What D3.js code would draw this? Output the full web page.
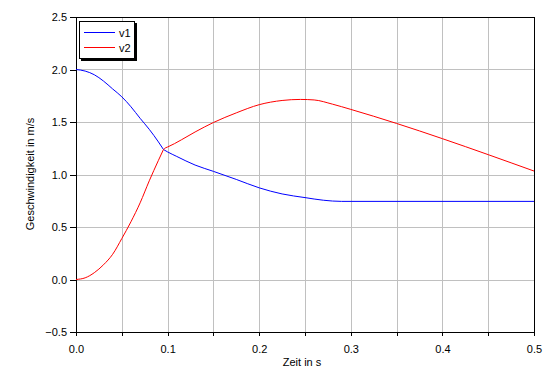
<!DOCTYPE html>
<html>
<head>
<meta charset="utf-8">
<script src="https://cdn.jsdelivr.net/npm/d3@7"></script>
<style>
  body { margin: 0; background: #fff; }
  text { font-family: "Liberation Sans", Arial, sans-serif; font-size: 11px; fill: #000; }
</style>
</head>
<body>
<div id="chart"></div>
<script>
// data
var timeV1 = [0, 0.01, 0.02, 0.03, 0.04, 0.05, 0.06, 0.07, 0.08, 0.09, 0.0955, 0.1, 0.11, 0.13, 0.15, 0.175, 0.2, 0.225, 0.25, 0.27, 0.29, 0.5];
var valV1  = [2.0, 1.985, 1.95, 1.89, 1.815, 1.74, 1.645, 1.535, 1.43, 1.31, 1.238, 1.215, 1.172, 1.09, 1.03, 0.953, 0.873, 0.815, 0.78, 0.755, 0.744, 0.744];

var timeV2 = [0, 0.01, 0.02, 0.03, 0.04, 0.05, 0.06, 0.07, 0.08, 0.09, 0.0955, 0.098, 0.1, 0.115, 0.13, 0.15, 0.175, 0.2, 0.225, 0.245, 0.26, 0.28, 0.3, 0.5];
var valV2  = [0, 0.016, 0.065, 0.14, 0.24, 0.39, 0.55, 0.73, 0.94, 1.135, 1.238, 1.255, 1.262, 1.33, 1.405, 1.495, 1.587, 1.665, 1.705, 1.715, 1.71, 1.67, 1.62, 1.033];

// time where both curves meet (kink in both)
var kinkTime = 0.0955;

var xTicks = [0, 0.1, 0.2, 0.3, 0.4, 0.5];
var xGrid = [0.05, 0.1, 0.15, 0.2, 0.25, 0.3, 0.35, 0.4, 0.45];
var yTicks = [-0.5, 0, 0.5, 1.0, 1.5, 2.0, 2.5];

var series = [
  {name: "v1", color: "#0000ff", t: timeV1, v: valV1},
  {name: "v2", color: "#ff0000", t: timeV2, v: valV2}
];

var W = 559, H = 381;
var margin = {left: 76, top: 17, right: 25, bottom: 49};

var svg = d3.select("#chart").append("svg")
    .attr("width", W).attr("height", H);

var x = d3.scaleLinear().domain([0, 0.5]).range([margin.left, W - margin.right]);
var y = d3.scaleLinear().domain([-0.5, 2.5]).range([H - margin.bottom, margin.top]);

var g = svg.append("g").attr("shape-rendering", "crispEdges");

// grid
g.selectAll(".vgrid").data(xGrid).enter().append("line")
    .attr("x1", d => Math.round(x(d)) + 0.5).attr("x2", d => Math.round(x(d)) + 0.5)
    .attr("y1", y(2.5)).attr("y2", y(-0.5))
    .attr("stroke", "#c0c0c0");
g.selectAll(".hgrid").data(yTicks.slice(1, -1)).enter().append("line")
    .attr("x1", x(0)).attr("x2", x(0.5))
    .attr("y1", d => Math.round(y(d)) + 0.5).attr("y2", d => Math.round(y(d)) + 0.5)
    .attr("stroke", "#c0c0c0");

// axes
var xAxis = d3.axisBottom(x).tickValues(d3.range(0, 0.501, 0.05))
    .tickSize(4).tickSizeOuter(0)
    .tickFormat(d => (Math.abs(d * 10 - Math.round(d * 10)) < 1e-6) ? d3.format(".1f")(d) : "");
var xg = svg.append("g")
    .attr("transform", "translate(0," + Math.round(y(-0.5)) + ")")
    .call(xAxis);
xg.selectAll("text").attr("dy", "1.25em");

var yAxis = d3.axisLeft(y).tickValues(yTicks).tickSize(6).tickSizeOuter(0)
    .tickFormat(d3.format(".1f"));
var yg = svg.append("g")
    .attr("transform", "translate(" + Math.round(x(0)) + ",0)")
    .call(yAxis);
yg.selectAll("text").attr("x", -9);

svg.selectAll(".domain, .tick line").attr("stroke", "#000").attr("shape-rendering", "crispEdges");
svg.selectAll(".tick text").style("font-family", "Liberation Sans, Arial, sans-serif").style("font-size", "11px");

// frame top/right
g.append("line").attr("x1", x(0)).attr("x2", Math.round(x(0.5)) + 0.5)
    .attr("y1", Math.round(y(2.5)) + 0.5).attr("y2", Math.round(y(2.5)) + 0.5).attr("stroke", "#000");
g.append("line").attr("x1", Math.round(x(0.5)) + 0.5).attr("x2", Math.round(x(0.5)) + 0.5)
    .attr("y1", y(2.5)).attr("y2", y(-0.5)).attr("stroke", "#000");

// lines, smooth on each side of the kink
var line = d3.line().x(d => x(d[0])).y(d => y(d[1])).curve(d3.curveMonotoneX);
series.forEach(function(s) {
  var pts = d3.zip(s.t, s.v);
  var parts = [pts.filter(p => p[0] <= kinkTime), pts.filter(p => p[0] >= kinkTime)];
  parts.forEach(function(p) {
    svg.append("path")
        .datum(p)
        .attr("fill", "none")
        .attr("stroke", s.color)
        .attr("stroke-width", 1)
        .attr("d", line);
  });
});

// axis titles
svg.append("text").attr("x", 302).attr("y", 366).attr("text-anchor", "middle").text("Zeit in s");
svg.append("text").attr("transform", "translate(34,174) rotate(-90)")
    .attr("text-anchor", "middle").text("Geschwindigkeit in m/s");

// legend
var lg = svg.append("g").attr("shape-rendering", "crispEdges");
lg.append("rect").attr("x", 81).attr("y", 23).attr("width", 56).attr("height", 38).attr("fill", "#000");
lg.append("rect").attr("x", 79.5).attr("y", 21.5).attr("width", 55).attr("height", 37)
    .attr("fill", "#fff").attr("stroke", "#000");
series.forEach(function(s, i) {
  var ly = 32.5 + i * 15;
  lg.append("line").attr("x1", 84).attr("x2", 115).attr("y1", ly).attr("y2", ly).attr("stroke", s.color);
  svg.append("text").attr("x", 119).attr("y", ly + 4).text(s.name);
});
</script>
</body>
</html>
